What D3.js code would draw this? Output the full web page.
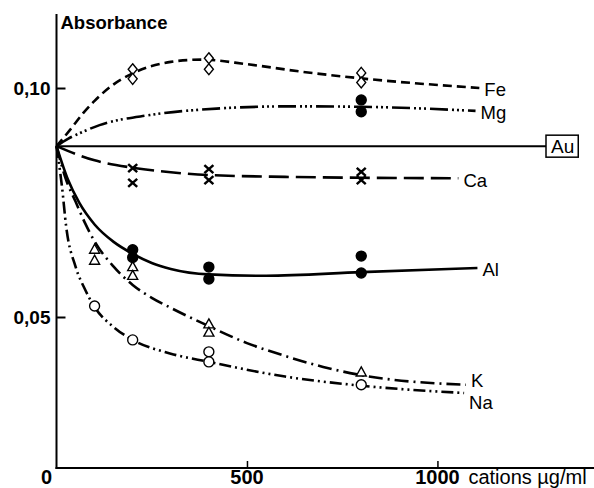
<!DOCTYPE html>
<html>
<head>
<meta charset="utf-8">
<script src="https://cdn.jsdelivr.net/npm/d3@7"></script>
<style>
    body { margin: 0; background: #fff; }
    svg { display: block; font-family: "Liberation Sans", Arial, sans-serif; }
</style>
</head>
<body>
<svg id="chart" width="594" height="488"></svg>
<script>

// curves: [cations µg/ml, absorbance]
const feCurve = [[0, 0.0873], [35, 0.0908], [70, 0.0945], [100, 0.0972], [150, 0.1008], [200, 0.1032], [300, 0.1057], [380, 0.1062], [500, 0.1052], [640, 0.1036], [800, 0.1021], [1110, 0.1000]];
const mgCurve = [[0, 0.0873], [30, 0.0889], [60, 0.0901], [113, 0.0919], [245, 0.0941], [420, 0.0955], [613, 0.0960], [800, 0.0959], [1100, 0.0950]];
const caCurve = [[0, 0.0873], [50, 0.0856], [100, 0.0842], [200, 0.0826], [300, 0.0816], [400, 0.0810], [600, 0.0806], [800, 0.0804], [1055, 0.0803]];
const alCurve = [[0, 0.0873], [30, 0.0800], [60, 0.0749], [100, 0.0702], [150, 0.0664], [200, 0.0638], [250, 0.0618], [300, 0.0605], [400, 0.0593], [550, 0.0590], [800, 0.0598], [1105, 0.0607]];
const kCurve = [[0, 0.0873], [25, 0.0800], [50, 0.0752], [75, 0.0705], [100, 0.0665], [150, 0.0610], [200, 0.0570], [250, 0.0542], [300, 0.0520], [400, 0.0480], [500, 0.0443], [600, 0.0415], [700, 0.0391], [800, 0.0373], [1075, 0.0352]];
const naCurve = [[0, 0.0873], [15, 0.0780], [25, 0.0700], [50, 0.0610], [75, 0.0560], [100, 0.0522], [150, 0.0478], [200, 0.0450], [300, 0.0420], [400, 0.0402], [600, 0.0370], [800, 0.0350], [1070, 0.0334]];
const auCurve = [[0, 0.0873], [1285, 0.0873]];

// measured points
const fePoints = [[200, 0.1041], [200, 0.1020], [400, 0.1065], [400, 0.1041], [800, 0.1033], [800, 0.1012]];
const mgPoints = [[800, 0.0974], [800, 0.0948]];
const caPoints = [[200, 0.0825], [200, 0.0793], [400, 0.0823], [400, 0.0799], [800, 0.0817], [800, 0.0799]];
const alPoints = [[200, 0.0647], [200, 0.0630], [400, 0.0609], [400, 0.0583], [800, 0.0633], [800, 0.0596]];
const kPoints = [[100, 0.0648], [100, 0.0624], [200, 0.0610], [200, 0.0591], [400, 0.0485], [400, 0.0467], [800, 0.0380]];
const naPoints = [[100, 0.0524], [200, 0.0450], [400, 0.0424], [400, 0.0402], [800, 0.0352]];

const seriesNames = ['Fe', 'Mg', 'Ca', 'Al', 'K', 'Na'];
const yTicks = [0.05, 0.10];
const xTicks = [0, 500, 1000];

const margin = ({top: 14, left: 56.5, bottom: 20});
const width = 594;
const height = 488;

const xScale = d3.scaleLinear()
    .domain([0, 1411])
    .range([margin.left, width]);

const yScale = d3.scaleLinear()
    .domain([0.01703, 0.11616])
    .range([height - margin.bottom, margin.top]);

const series = [
    {name: 'Fe', curve: feCurve, points: fePoints, dash: '9,5', marker: 'diamond', dy: 8},
    {name: 'Mg', curve: mgCurve, points: mgPoints, dash: '18,4,2,3,2,3,2,4', marker: 'dot', dy: 8},
    {name: 'Ca', curve: caCurve, points: caPoints, dash: '20,7', marker: 'cross', dy: 9},
    {name: 'Al', curve: alCurve, points: alPoints, dash: null, marker: 'dot', dy: 8},
    {name: 'K', curve: kCurve, points: kPoints, dash: '14,5,2,5', marker: 'triangle', dy: 2.5},
    {name: 'Na', curve: naCurve, points: naPoints, dash: '12,4,2,4,2,4', marker: 'circle', dy: 16}
];

const svg = d3.select('#chart');

// axes
svg.append('g')
    .attr('transform', `translate(${margin.left},0)`)
    .call(d3.axisRight(yScale).tickValues(yTicks).tickSize(9).tickFormat(''))
    .call(g => g.select('.domain').remove())
    .call(g => g.selectAll('.tick line').attr('stroke', '#000').attr('stroke-width', 2));

svg.append('line')
    .attr('x1', margin.left).attr('x2', margin.left)
    .attr('y1', margin.top).attr('y2', yScale.range()[0] + 1)
    .attr('stroke', '#000').attr('stroke-width', 2);

svg.append('g').selectAll('text')
    .data(yTicks)
    .join('text')
    .attr('x', margin.left - 6)
    .attr('y', d => yScale(d))
    .attr('dy', '0.36em')
    .attr('text-anchor', 'end')
    .attr('font-size', 19)
    .attr('font-weight', 'bold')
    .text(d => d3.format('.2f')(d).replace('.', ','));

svg.append('g')
    .attr('transform', `translate(0,${yScale.range()[0]})`)
    .call(d3.axisTop(xScale).tickValues(xTicks.slice(1)).tickSize(7).tickFormat(''))
    .call(g => g.select('.domain').remove())
    .call(g => g.selectAll('.tick line').attr('stroke', '#000').attr('stroke-width', 1.5));

svg.append('line')
    .attr('x1', margin.left - 1).attr('x2', width)
    .attr('y1', yScale.range()[0]).attr('y2', yScale.range()[0])
    .attr('stroke', '#000').attr('stroke-width', 2);

svg.append('g').selectAll('text')
    .data(xTicks)
    .join('text')
    .attr('x', d => d === 0 ? xScale(d) - 10 : xScale(d))
    .attr('y', height - 4)
    .attr('text-anchor', 'middle')
    .attr('font-size', 20)
    .attr('font-weight', 'bold')
    .text(d => d);

svg.append('text')
    .attr('x', xScale(1000) + 31)
    .attr('y', height - 4)
    .attr('font-size', 20)
    .text('cations \u00b5g/ml');

svg.append('text')
    .attr('x', margin.left + 4)
    .attr('y', 29)
    .attr('font-size', 18.5)
    .attr('font-weight', 'bold')
    .text('Absorbance');

// curves
const line = d3.line()
    .x(d => xScale(d[0]))
    .y(d => yScale(d[1]))
    .curve(d3.curveMonotoneX);

svg.append('path')
    .attr('d', d3.line().x(d => xScale(d[0])).y(d => yScale(d[1]))(auCurve))
    .attr('fill', 'none')
    .attr('stroke', '#000')
    .attr('stroke-width', 2);

const auEnd = auCurve[auCurve.length - 1];
const auLabel = svg.append('text')
    .attr('x', xScale(auEnd[0]) + 5)
    .attr('y', yScale(auEnd[1]) + 7)
    .attr('font-size', 19)
    .text('Au');
const bb = auLabel.node().getBBox();
svg.append('rect')
    .attr('x', xScale(auEnd[0]))
    .attr('y', bb.y - 1)
    .attr('width', bb.width + 9)
    .attr('height', bb.height + 1)
    .attr('fill', 'none')
    .attr('stroke', '#000')
    .attr('stroke-width', 1.5);

svg.append('g').selectAll('path')
    .data(series)
    .join('path')
    .attr('d', d => line(d.curve))
    .attr('fill', 'none')
    .attr('stroke', '#000')
    .attr('stroke-width', 2.6)
    .attr('stroke-dasharray', d => d.dash);

svg.append('g').selectAll('text')
    .data(series)
    .join('text')
    .attr('x', d => xScale(d.curve[d.curve.length - 1][0]) + 5)
    .attr('y', d => yScale(d.curve[d.curve.length - 1][1]) + d.dy)
    .attr('font-size', 18.5)
    .text(d => d.name);

// markers
function markerPath(type) {
    if (type === 'diamond') return 'M0,-5.5L4.5,0L0,5.5L-4.5,0Z';
    if (type === 'triangle') return 'M0,-5L5,4L-5,4Z';
    if (type === 'cross') return 'M-4.5,-4L4.5,4M-4.5,4L4.5,-4';
    return d3.symbol(d3.symbolCircle, 78)();
}

const markerGroups = svg.append('g').selectAll('g')
    .data(series)
    .join('g');

markerGroups.selectAll('path')
    .data(s => s.points.map(p => ({p: p, marker: s.marker})))
    .join('path')
    .attr('transform', d => `translate(${xScale(d.p[0])},${yScale(d.p[1])})`)
    .attr('d', d => markerPath(d.marker))
    .attr('fill', d => d.marker === 'dot' ? '#000' : (d.marker === 'cross' ? 'none' : '#fff'))
    .attr('stroke', '#000')
    .attr('stroke-width', d => d.marker === 'cross' ? 2.5 : 1.4);

</script>
</body>
</html>
